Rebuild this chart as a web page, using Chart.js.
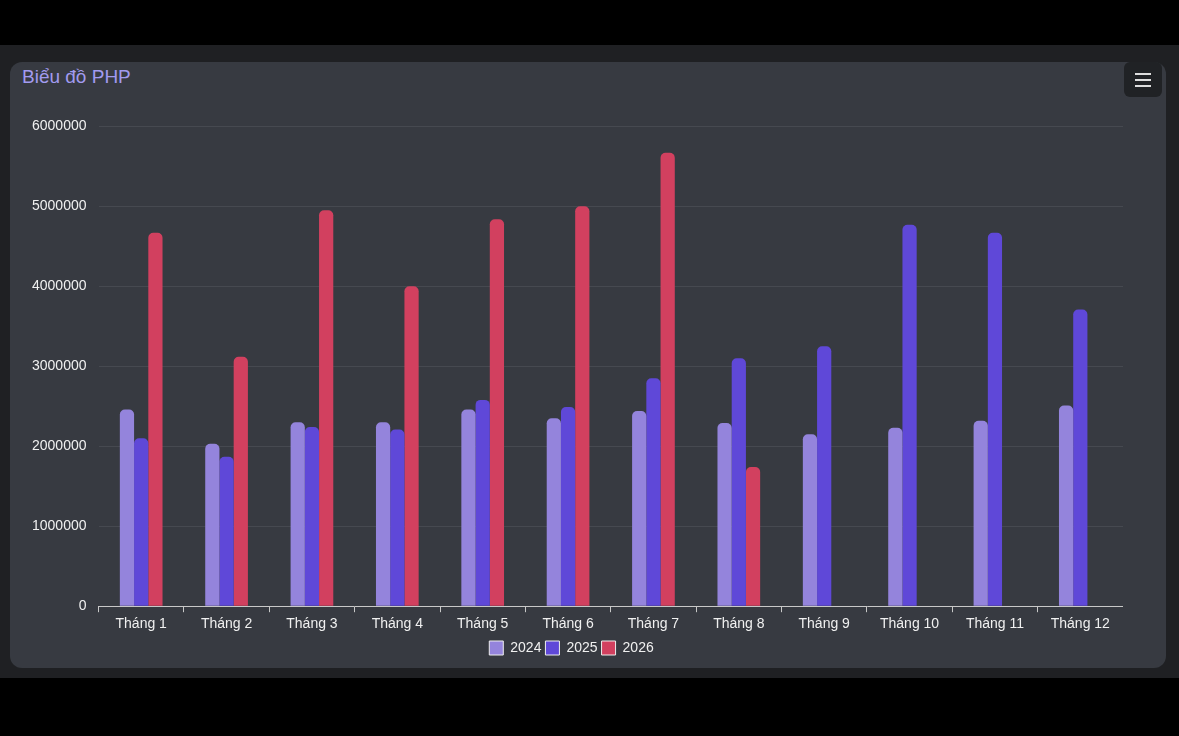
<!DOCTYPE html>
<html>
<head>
<meta charset="utf-8">
<script src="https://cdn.jsdelivr.net/npm/chart.js@4"></script>
<style>
  body { margin: 0; background: #000; font-family: "Liberation Sans", Arial, sans-serif; }
  .band { position: absolute; left: 0; top: 45px; width: 1179px; height: 633px; background: #1f2023; }
  .card { position: absolute; left: 10px; top: 62px; width: 1156px; height: 606px; background: #373a41; border-radius: 12px; }
  .title { position: absolute; left: 12px; top: 4px; font-size: 19px; color: #a29bf0; }
  .menu { position: absolute; right: 4px; top: 0; width: 38px; height: 35px; background: #202225; border-radius: 6px; }
  .menu span { position: absolute; left: 11px; width: 16px; height: 2px; background: #ddd; }
  .wrap { position: absolute; left: 0; top: 44px; width: 1113px; height: 559px; }
</style>
</head>
<body>
<div class="band"></div>
<div class="card">
  <div class="title">Biểu đồ PHP</div>
  <div class="menu"><span style="top:11px"></span><span style="top:17px"></span><span style="top:23px"></span></div>
  <div class="wrap"><canvas id="chart"></canvas></div>
</div>
<script>
const months = ["Tháng 1", "Tháng 2", "Tháng 3", "Tháng 4", "Tháng 5", "Tháng 6",
    "Tháng 7", "Tháng 8", "Tháng 9", "Tháng 10", "Tháng 11", "Tháng 12"];
const values2024 = [2460000, 2030000, 2300000, 2300000, 2460000, 2350000, 2440000, 2290000, 2150000, 2230000, 2320000, 2510000];
const values2025 = [2100000, 1870000, 2240000, 2210000, 2580000, 2490000, 2850000, 3100000, 3250000, 4770000, 4670000, 3710000];
const values2026 = [4670000, 3120000, 4950000, 4000000, 4840000, 5000000, 5670000, 1740000, null, null, null, null];

const tickColor = "#f0f0f0";

new Chart(document.getElementById("chart"), {
    type: "bar",
    data: {
        labels: months,
        datasets: [
            { label: "2024", data: values2024, backgroundColor: "#9484dc" },
            { label: "2025", data: values2025, backgroundColor: "#5f48d8" },
            { label: "2026", data: values2026, backgroundColor: "#d2405f" }
        ].map(d => Object.assign(d, {
            borderRadius: { topLeft: 5, topRight: 5 },
            borderSkipped: "bottom",
            categoryPercentage: 0.5,
            barPercentage: 1
        }))
    },
    options: {
        responsive: true,
        maintainAspectRatio: false,
        animation: false,
        layout: { padding: { left: 10, right: 0, top: 20, bottom: 0 } },
        plugins: {
            legend: {
                position: "bottom",
                labels: {
                    color: tickColor,
                    font: { family: "Liberation Sans", size: 14 },
                    boxWidth: 14, boxHeight: 14, padding: 4,
                    generateLabels: chart => chart.data.datasets.map((d, i) => ({
                        text: d.label, fillStyle: d.backgroundColor, strokeStyle: "#eee",
                        lineWidth: 1, fontColor: tickColor, datasetIndex: i
                    }))
                }
            },
            tooltip: { enabled: false }
        },
        scales: {
            x: {
                grid: { display: true, drawOnChartArea: false, drawTicks: true, tickLength: 6, color: "#c8c8c8" },
                border: { color: "#c8c8c8" },
                ticks: { color: tickColor, font: { family: "Liberation Sans", size: 14 }, padding: 4 }
            },
            y: {
                min: 0, max: 6000000,
                ticks: {
                    stepSize: 1000000, color: tickColor, padding: 12,
                    font: { family: "Liberation Sans", size: 14 },
                    callback: v => String(v)
                },
                grid: { color: "#464950", drawTicks: false },
                border: { display: false }
            }
        }
    }
});
</script>
</body>
</html>
